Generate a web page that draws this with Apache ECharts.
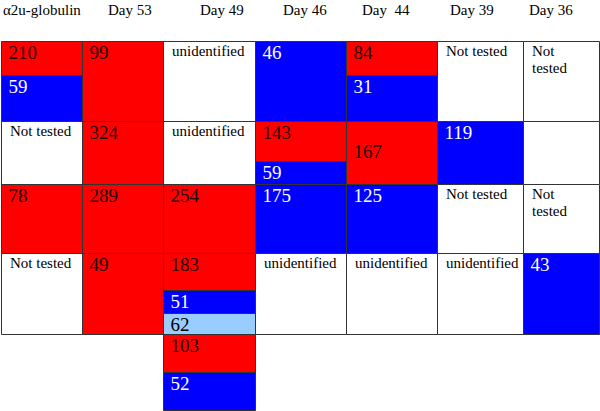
<!DOCTYPE html>
<html>
<head>
<meta charset="utf-8">
<script src="https://cdn.jsdelivr.net/npm/echarts@6/dist/echarts.min.js"></script>
<style>html,body{margin:0;padding:0;background:#fff}#c{width:600px;height:411px}</style>
</head>
<body>
<div id="c"></div>
<script>
// ---- data ----
const columns = ['α2u-globulin', 'Day 53', 'Day 49', 'Day 46', 'Day  44', 'Day 39', 'Day 36'];
const labels0 = ['210', '59', 'Not tested', '78', 'Not tested'];
const labels1 = ['99', '324', '289', '49'];
const labels2 = ['unidentified', 'unidentified', '254', '183', '51', '62', '103', '52'];
const labels3 = ['46', '143', '59', '175', 'unidentified'];
const labels4 = ['84', '31', '167', '125', 'unidentified'];
const labels5 = ['Not tested', '119', 'Not tested', 'unidentified'];
const labels6 = ['Not\ntested', '', 'Not\ntested', '43'];
// r = red, b = blue, l = light blue, w = white
const types0 = ['r', 'b', 'w', 'r', 'w'];
const types1 = ['r', 'r', 'r', 'r'];
const types2 = ['w', 'w', 'r', 'r', 'b', 'l', 'r', 'b'];
const types3 = ['b', 'r', 'b', 'b', 'w'];
const types4 = ['r', 'b', 'r', 'b', 'w'];
const types5 = ['w', 'b', 'w', 'w'];
const types6 = ['w', 'w', 'w', 'b'];

// ---- layout (table geometry in axis units) ----
const colEdges = [1, 82, 163, 255, 346, 437, 523, 599];
const headerX = [3, 108, 200, 283, 362, 450, 529];
const breaks = [
  [41, 75, 121, 184, 253, 334],
  [41, 121, 184, 253, 334],
  [41, 121, 184, 253, 290, 313, 334, 372, 410],
  [41, 121, 161, 184, 253, 334],
  [41, 75, 121, 184, 253, 334],
  [41, 121, 184, 253, 334],
  [41, 121, 184, 253, 334]
];
const labelLineShift = { '4-2': 1 }; // "167" sits one line lower

const allLabels = [labels0, labels1, labels2, labels3, labels4, labels5, labels6];
const allTypes = [types0, types1, types2, types3, types4, types5, types6];
const fillOf = { r: '#ff0000', b: '#0000ff', l: '#99ccff', w: '#ffffff' };
const textOf = { r: '#1a0000', b: '#ffffff', l: '#000000', w: '#000000' };

const cells = [];
allLabels.forEach((labs, c) => {
  labs.forEach((lab, i) => {
    cells.push({
      value: [colEdges[c], colEdges[c + 1], breaks[c][i], breaks[c][i + 1]],
      label: lab, type: allTypes[c][i], shift: labelLineShift[c + '-' + i] || 0
    });
  });
});
const headers = columns.map((name, i) => ({ value: [headerX[i], 2], name }));

const FAM = '"Liberation Serif", "Times New Roman", serif';
const chart = echarts.init(document.getElementById('c'), null, { renderer: 'svg' });
chart.setOption({
  animation: false,
  grid: { left: 0, right: 0, top: 0, bottom: 0 },
  xAxis: { type: 'value', min: 0, max: 600, show: false },
  yAxis: { type: 'value', min: 0, max: 411, inverse: true, show: false },
  series: [
    {
      type: 'custom',
      data: cells,
      encode: { x: [0, 1], y: [2, 3] },
      renderItem: function (params, api) {
        const cell = cells[params.dataIndex];
        const p0 = api.coord([api.value(0), api.value(2)]);
        const p1 = api.coord([api.value(1), api.value(3)]);
        const x0 = Math.round(p0[0]) + 0.5, y0 = Math.round(p0[1]) + 0.5;
        const x1 = Math.round(p1[0]) + 0.5, y1 = Math.round(p1[1]) + 0.5;
        const isNum = /^\d+$/.test(cell.label);
        const fs = isNum ? 19 : 15;
        const lh = isNum ? 19 : 17;
        return {
          type: 'group',
          children: [
            {
              type: 'rect',
              shape: { x: x0, y: y0, width: x1 - x0, height: y1 - y0 },
              style: { fill: fillOf[cell.type], stroke: '#333', lineWidth: 1 }
            },
            {
              type: 'text',
              style: {
                text: cell.label,
                x: x0 + (isNum ? 7 : 8.5),
                y: y0 + (isNum ? 1.5 : 1) + cell.shift * lh,
                fill: textOf[cell.type],
                font: fs + 'px ' + FAM,
                lineHeight: lh,
                align: 'left', verticalAlign: 'top'
              }
            }
          ]
        };
      }
    },
    {
      type: 'custom',
      data: headers,
      renderItem: function (params, api) {
        const p = api.coord([api.value(0), api.value(1)]);
        return {
          type: 'text',
          style: {
            text: headers[params.dataIndex].name,
            x: p[0], y: p[1],
            fill: '#000', font: '15px ' + FAM,
            align: 'left', verticalAlign: 'top'
          }
        };
      }
    }
  ]
});
</script>
</body>
</html>
